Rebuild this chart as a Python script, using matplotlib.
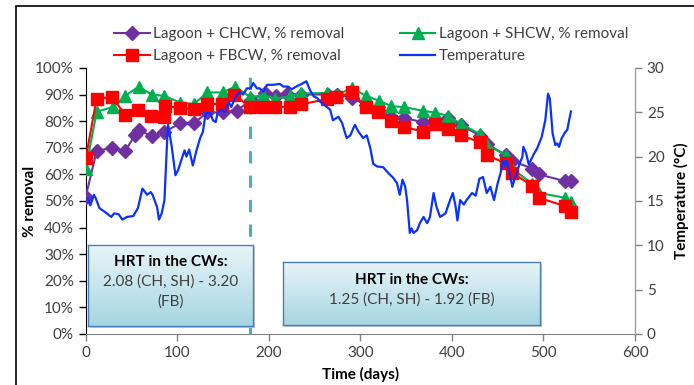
import numpy as np
import matplotlib
matplotlib.use("Agg")
import matplotlib.pyplot as plt
from matplotlib.patches import Rectangle

plt.rcParams['font.family'] = ['Lato', 'DejaVu Sans']

# % removal series (days, %)
ch_days = [0, 12, 29, 43, 54, 58, 72, 86, 103, 118, 133, 150, 165, 181, 196, 208, 220, 235, 265, 274,
           291, 306, 320, 334, 348, 368, 382, 396, 410, 431, 438, 459, 466, 488, 495, 524, 530]
ch_vals = [51.6, 68.8, 70, 68.8, 74.7, 76.6, 74.4, 75.9, 79.2, 79.2, 83.3, 83.3, 84, 88, 90.6, 89.5, 90.2, 90, 90, 90,
           88.8, 86, 84, 81.7, 81.1, 79.7, 80, 81.1, 78.5, 74.5, 71.5, 67.2, 65, 62.2, 60, 57.4, 57.4]

sh_days = [0, 12, 30, 43, 58, 72, 86, 103, 118, 133, 150, 163, 180, 194, 207, 223, 235, 264, 274, 291,
           306, 320, 334, 348, 368, 382, 396, 410, 431, 438, 459, 466, 488, 495, 524, 530]
sh_vals = [62, 83.5, 85.4, 89.5, 93, 90, 89.5, 87, 86.4, 90.8, 90.8, 93, 89, 89.8, 88.5, 89.3, 90.4, 90.6, 90, 92.3,
           89.6, 87.7, 85.6, 85.3, 83.9, 83.2, 82, 78.9, 75.1, 71, 67.3, 62, 56.5, 53, 51.2, 49.5]

fb_days = [0, 12, 29, 43, 57, 71, 85, 87, 103, 118, 133, 149, 162, 180, 194, 207, 223, 235, 264, 273,
           291, 306, 319, 334, 348, 368, 382, 396, 410, 431, 438, 459, 466, 488, 495, 524, 530]
fb_vals = [66, 88.5, 89, 82.4, 84.2, 81.8, 81.4, 85.8, 84.8, 84.5, 86.5, 86.4, 90, 85.2, 85.5, 85.2, 85.5, 86.3, 88.3, 89,
           90.8, 85.2, 83.3, 80, 77.8, 76.1, 78.9, 77, 74.7, 72, 67.3, 64.1, 60.6, 55.6, 51.2, 48, 45.9]

# temperature (°C)
t_days = [2, 5, 9, 11, 15, 23, 28, 31, 36, 40, 45, 52, 57, 62, 67, 71, 73, 78, 80, 83,
          86, 89, 90, 94, 98, 101, 105, 108, 110, 113, 117, 121, 125, 128, 131, 136, 139, 142, 144, 148,
          152, 156, 159, 163, 168, 172, 176, 180, 183, 187, 190, 194, 198, 205, 212, 216, 221, 225, 230, 236,
          241, 245, 249, 253, 256, 261, 267, 270, 276, 280, 285, 289, 294, 298, 303, 307, 311, 314, 318, 325,
          331, 336, 340, 343, 346, 349, 351, 354, 356, 358, 362, 365, 369, 373, 376, 380, 383, 387, 393, 398,
          401, 404, 406, 409, 413, 416, 422, 426, 430, 434, 438, 442, 446, 450, 453, 456, 458, 460, 463, 466,
          469, 473, 477, 478, 481, 484, 489, 493, 498, 502, 505, 507, 510, 513, 515, 517, 520, 524, 526, 528,
          530]
t_vals = [15.3, 14.5, 15.7, 15.3, 14.2, 13.6, 13.2, 13.6, 13.5, 12.9, 13.2, 13.3, 14.2, 16.4, 15.7, 16.0, 15.7, 14.3, 12.9, 13.6,
          15.1, 21.9, 23.6, 21.1, 17.9, 18.5, 19.8, 20.7, 20.0, 20.8, 19.0, 20.7, 22.1, 22.8, 24.9, 24.9, 24.1, 23.9, 24.9, 25.3,
          25.0, 26.2, 25.6, 26.6, 27.3, 27.0, 27.7, 27.7, 28.3, 27.7, 27.7, 27.3, 28.1, 28.1, 28.2, 27.9, 27.9, 27.6, 27.9, 28.2,
          28.5, 27.5, 26.8, 26.6, 26.2, 25.8, 25.3, 24.1, 24.5, 23.8, 22.1, 22.4, 23.6, 22.8, 22.1, 22.4, 20.9, 19.2, 18.9, 18.8,
          18.1, 17.6, 17.0, 15.7, 17.4, 16.6, 15.1, 11.4, 11.9, 11.4, 11.7, 12.5, 13.2, 12.5, 13.2, 15.9, 14.4, 13.2, 13.6, 15.1,
          15.9, 14.4, 12.8, 15.1, 14.6, 15.1, 15.9, 15.6, 17.5, 17.7, 15.9, 16.6, 15.1, 17.0, 18.1, 19.6, 18.9, 19.6, 18.1, 16.6,
          17.7, 18.9, 20.0, 21.1, 20.4, 19.1, 20.2, 20.9, 22.2, 24.1, 27.1, 26.5, 22.6, 21.3, 21.5, 21.1, 22.1, 22.8, 23.0, 24.1,
          25.1]
assert len(t_days) == len(t_vals)

hrt_change_day = 180
box_texts = [("HRT in the CWs:", "2.08 (CH, SH) - 3.20\n(FB)"),
             ("HRT in the CWs:", "1.25 (CH, SH) - 1.92 (FB)")]

fig = plt.figure(figsize=(6.94, 3.85), dpi=100)
ax = fig.add_axes([0.1235, 0.1325, 0.7915, 0.691])
ax2 = ax.twinx()

tick_col = '#404040'
ax.plot(ch_days, ch_vals, color='#7030a0', lw=1.5, marker='D', ms=7, label='Lagoon + CHCW, % removal', zorder=3)
ax.plot(sh_days, sh_vals, color='#00b050', lw=1.5, marker='^', ms=9, label='Lagoon + SHCW, % removal', zorder=4)
ax.plot(fb_days, fb_vals, color='#ff0000', lw=1.5, marker='s', ms=9, label='Lagoon + FBCW, % removal', zorder=5)
ax2.plot(t_days, t_vals, color='#0a32ff', lw=1.6, label='Temperature')

ax.axvline(hrt_change_day, color='#4bacc6', lw=2.2, ls=(0, (4, 4)), zorder=2)

ax.set_xlim(0, 600)
ax.set_ylim(0, 100)
ax2.set_ylim(0, 30)
ax.set_xticks(range(0, 601, 100))
ax.set_yticks(range(0, 101, 10))
ax.set_yticklabels([f"{v}%" for v in range(0, 101, 10)])
ax2.set_yticks(range(0, 31, 5))

for a in (ax, ax2):
    a.spines['top'].set_visible(False)
    a.tick_params(labelsize=11, colors='#808080', labelcolor=tick_col, length=5, width=1)
ax.spines['left'].set_color('black')
ax.spines['bottom'].set_color('#808080')
ax2.spines['right'].set_color('#a0a0a0')
ax2.spines['left'].set_visible(False)
ax2.spines['bottom'].set_visible(False)
ax.tick_params(axis='y', colors='black', labelcolor=tick_col)

ax.set_xlabel('Time (days)', fontsize=11, fontweight='bold', labelpad=5)
ax.set_ylabel('% removal', fontsize=11, fontweight='bold')
ax.yaxis.set_label_coords(-0.089, 0.5)
ax2.set_ylabel('Temperature (°C)', fontsize=11, fontweight='bold', labelpad=7)

h1, l1 = ax.get_legend_handles_labels()
h2, l2 = ax2.get_legend_handles_labels()
order = [0, 2, 1]
handles = [h1[i] for i in order] + h2
labels = [l1[i] for i in order] + l2
fig.legend(handles, labels, loc='upper left', bbox_to_anchor=(0.145, 0.965), ncol=2, frameon=False,
           fontsize=11, handlelength=2.3, handletextpad=0.2, columnspacing=3.7, labelspacing=0.52,
           labelcolor=tick_col)

# HRT annotation boxes with a vertical gradient
box_pos = [(88, 245, 165, 81), (283, 262, 257, 63)]
W, H = 694, 385
grad = np.linspace(0, 1, 100).reshape(-1, 1)
cmap = matplotlib.colors.LinearSegmentedColormap.from_list('hrt', ['#e8f4f8', '#a6d6e2'])
for (x0, y0, w, h), (head, body) in zip(box_pos, box_texts):
    sh = fig.add_axes([(x0 + 2) / W, 1 - (y0 + h + 2) / H, w / W, h / H], zorder=8)
    sh.set_axis_off()
    sh.add_patch(Rectangle((0, 0), 1, 1, transform=sh.transAxes, color='#c8c8c8'))
    bx = fig.add_axes([x0 / W, 1 - (y0 + h) / H, w / W, h / H], zorder=9)
    bx.imshow(grad, cmap=cmap, aspect='auto', extent=[0, 1, 0, 1])
    bx.set_xlim(0, 1)
    bx.set_ylim(0, 1)
    bx.set_xticks([])
    bx.set_yticks([])
    for s in bx.spines.values():
        s.set_color('#4a7ebb')
        s.set_linewidth(1)
    nlines = body.count('\n') + 2
    top = 0.5 + ((nlines - 1) * 0.5 * 20 + 4) / h
    bx.text(0.5, top, head, ha='center', va='center', fontsize=11, fontweight='bold', color='black')
    for k, line in enumerate(body.split('\n')):
        bx.text(0.5, top - (k + 1) * 20 / h, line, ha='center', va='center', fontsize=11, color=tick_col)

# outer chart frame
fig.patches.append(Rectangle((16 / W, -0.1), 1.2, 1.1 - 6 / H, transform=fig.transFigure,
                             fill=False, edgecolor='black', lw=1.2, zorder=0))

fig.savefig('out.png', dpi=100)
